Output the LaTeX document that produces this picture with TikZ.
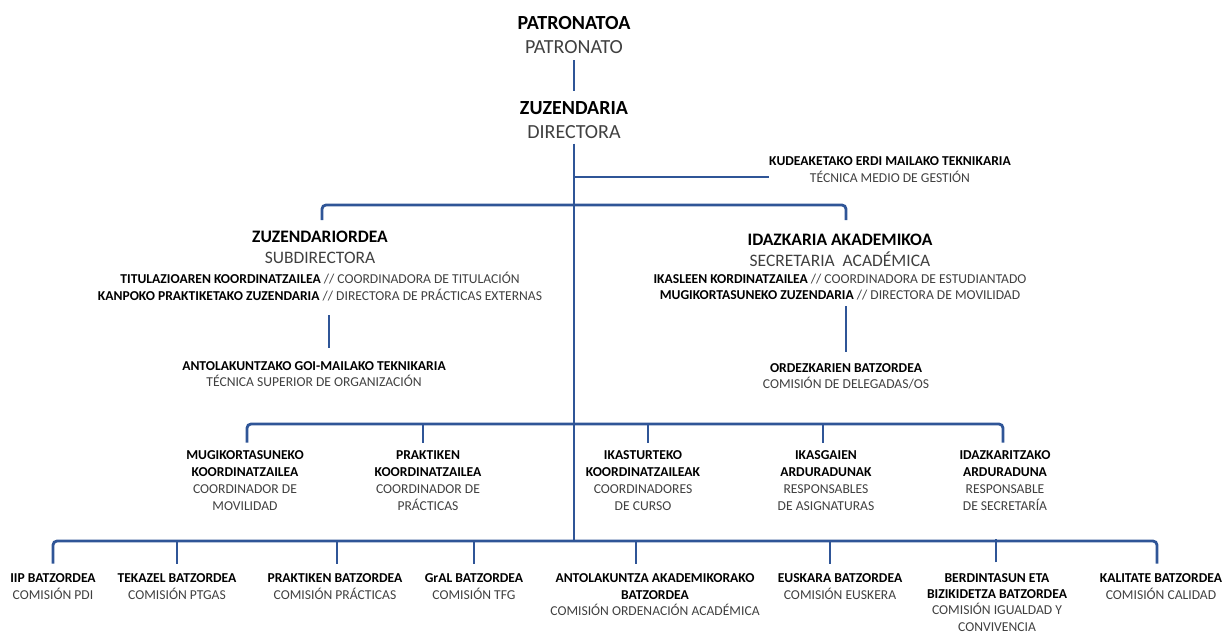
\documentclass[tikz,border=0pt]{standalone}
\usepackage{fontspec}
\setmainfont{Carlito}
\usetikzlibrary{positioning}
\definecolor{orgblue}{HTML}{2F5597}
\definecolor{txtgray}{HTML}{404040}
\newcommand{\es}[1]{\textcolor{txtgray}{#1}}

\begin{document}
\begin{tikzpicture}[
    x=1pt,y=-1pt,
    conn/.style={draw=orgblue,line width=2.8pt,rounded corners=4pt},
    big/.style={font=\fontsize{20}{24}\selectfont,align=center,inner sep=0pt,anchor=north},
    mid/.style={font=\fontsize{17.5}{21.5}\selectfont,align=center,inner sep=0pt,anchor=north},
    small/.style={font=\fontsize{13.6}{17}\selectfont,align=center,inner sep=0pt,anchor=north}
]
    \useasboundingbox (0,0) rectangle (1224,633);

    \node[big] (patr) at (574,16.6) {\textbf{PATRONATOA}\\\es{PATRONATO}};
    \node[big] (zuz) at (574,101.6) {\textbf{ZUZENDARIA}\\\es{DIRECTORA}};
    \node[small] (kud) at (890,156.6) {\textbf{KUDEAKETAKO ERDI MAILAKO TEKNIKARIA}\\\es{TÉCNICA MEDIO DE GESTIÓN}};

    \node[mid] (zord) at (320,230.4) {\textbf{ZUZENDARIORDEA}\\\es{SUBDIRECTORA}};
    \node[small,below=8pt of zord] (zordf) {\textbf{TITULAZIOAREN KOORDINATZAILEA} \es{// COORDINADORA DE TITULACIÓN}\\\textbf{KANPOKO PRAKTIKETAKO ZUZENDARIA} \es{// DIRECTORA DE PRÁCTICAS EXTERNAS}};
    \node[mid] (idaz) at (840,233.4) {\textbf{IDAZKARIA AKADEMIKOA}\\\es{SECRETARIA\ \ ACADÉMICA}};
    \node[small,below=7pt of idaz,font=\fontsize{13.6}{16}\selectfont] (idazf) {\textbf{IKASLEEN KORDINATZAILEA} \es{// COORDINADORA DE ESTUDIANTADO}\\\textbf{MUGIKORTASUNEKO ZUZENDARIA} \es{// DIRECTORA DE MOVILIDAD}};

    \node[small,font=\fontsize{13.6}{16}\selectfont] (antol) at (314,361.6) {\textbf{ANTOLAKUNTZAKO GOI-MAILAKO TEKNIKARIA}\\\es{TÉCNICA SUPERIOR DE ORGANIZACIÓN}};
    \node[small,font=\fontsize{13.6}{15.5}\selectfont] (ordez) at (846,363.6) {\textbf{ORDEZKARIEN BATZORDEA}\\\es{COMISIÓN DE DELEGADAS/OS}};

    % Koordinatzaileak
    \node[small] (mugk) at (245,450.6) {\textbf{MUGIKORTASUNEKO}\\\textbf{KOORDINATZAILEA}\\\es{COORDINADOR DE}\\\es{MOVILIDAD}};
    \node[small] (prakk) at (428,450.6) {\textbf{PRAKTIKEN}\\\textbf{KOORDINATZAILEA}\\\es{COORDINADOR DE}\\\es{PRÁCTICAS}};
    \node[small] (ikast) at (643,450.6) {\textbf{IKASTURTEKO}\\\textbf{KOORDINATZAILEAK}\\\es{COORDINADORES}\\\es{DE CURSO}};
    \node[small] (ikasg) at (826,450.6) {\textbf{IKASGAIEN}\\\textbf{ARDURADUNAK}\\\es{RESPONSABLES}\\\es{DE ASIGNATURAS}};
    \node[small] (idazk) at (1005,450.6) {\textbf{IDAZKARITZAKO}\\\textbf{ARDURADUNA}\\\es{RESPONSABLE}\\\es{DE SECRETARÍA}};

    % Batzordeak
    \tikzset{bottom/.style={small,font=\fontsize{13.6}{16.3}\selectfont}}
    \node[bottom] (iip) at (53,573.6) {\textbf{IIP BATZORDEA}\\\es{COMISIÓN PDI}};
    \node[bottom] (tek) at (177,573.6) {\textbf{TEKAZEL BATZORDEA}\\\es{COMISIÓN PTGAS}};
    \node[bottom] (prak) at (335,573.6) {\textbf{PRAKTIKEN BATZORDEA}\\\es{COMISIÓN PRÁCTICAS}};
    \node[bottom] (gral) at (474,573.6) {\textbf{GrAL BATZORDEA}\\\es{COMISIÓN TFG}};
    \node[bottom] (akad) at (655,573.6) {\textbf{ANTOLAKUNTZA AKADEMIKORAKO}\\\textbf{BATZORDEA}\\\es{COMISIÓN ORDENACIÓN ACADÉMICA}};
    \node[bottom] (eusk) at (840,573.6) {\textbf{EUSKARA BATZORDEA}\\\es{COMISIÓN EUSKERA}};
    \node[bottom] (berd) at (997,573) {\textbf{BERDINTASUN ETA}\\\textbf{BIZIKIDETZA BATZORDEA}\\\es{COMISIÓN IGUALDAD Y}\\\es{CONVIVENCIA}};
    \node[bottom] (kal) at (1161,573.6) {\textbf{KALITATE BATZORDEA}\\\es{COMISIÓN CALIDAD}};

    \coordinate (j0) at (574,177);
    \coordinate (j1) at (574,205);
    \coordinate (j2) at (574,424);
    \coordinate (j3) at (574,541);

    \draw[conn] ([yshift=-6pt]patr.south) -- ([yshift=11pt]zuz.north);
    \draw[conn] ([yshift=-4.5pt]zuz.south) -- (j3);
    \draw[conn] (j0) -- (j0 -| kud.west);
    \draw[conn] ([xshift=2pt,yshift=10.4pt]zord.north) |- (j1) -| ([xshift=6pt,yshift=13.4pt]idaz.north);
    \draw[conn] ([xshift=9pt,yshift=-14pt]zordf.south) -- ([xshift=15pt,yshift=14pt]antol.north);
    \draw[conn] ([xshift=6pt,yshift=-6pt]idazf.south) -- ([yshift=12pt]ordez.north);

    \draw[conn] ([xshift=2pt,yshift=8pt]mugk.north) |- (j2) -| ([xshift=-2pt,yshift=8pt]idazk.north);
    \draw[conn] ([xshift=-5pt,yshift=8pt]prakk.north) -- ++(0,-19);
    \draw[conn] ([xshift=5pt,yshift=8pt]ikast.north) -- ++(0,-19);
    \draw[conn] ([xshift=-3pt,yshift=8pt]ikasg.north) -- ++(0,-19);

    \draw[conn] ([yshift=10pt]iip.north) |- (j3) -| ([xshift=-4pt,yshift=10pt]kal.north);
    \draw[conn] ([yshift=10pt]tek.north) -- ++(0,-23);
    \draw[conn] ([xshift=2pt,yshift=10pt]prak.north) -- ++(0,-23);
    \draw[conn] ([yshift=10pt]gral.north) -- ++(0,-23);
    \draw[conn] ([xshift=-19pt,yshift=10pt]akad.north) -- ++(0,-23);
    \draw[conn] ([xshift=-10pt,yshift=10pt]eusk.north) -- ++(0,-23);
    \draw[conn] ([xshift=-1pt,yshift=10.6pt]berd.north) -- ++(0,-23.6);
\end{tikzpicture}
\end{document}
